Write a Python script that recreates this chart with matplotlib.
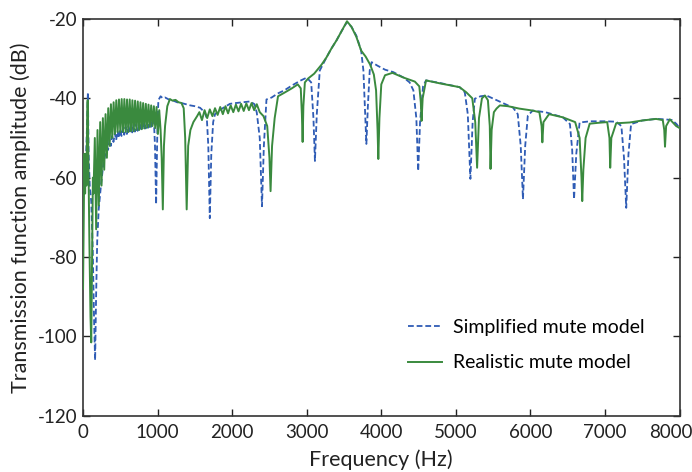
import matplotlib
matplotlib.use("Agg")
import matplotlib.pyplot as plt
from matplotlib.transforms import ScaledTranslation

# ---------------- data ----------------
simplified_freq = [0, 20, 40, 55, 65, 75, 90, 110, 130, 148, 162, 175, 190, 210, 240, 270,
                   300, 318, 336, 354, 372, 390, 408, 426, 444, 462, 480, 498, 516, 534, 552, 570,
                   588, 606, 624, 642, 660, 678, 696, 714, 732, 750, 768, 786, 804, 822, 840, 858,
                   876, 894, 912, 930, 950, 965, 980, 995, 1010, 1040, 1070, 1100, 1150, 1200, 1260,
                   1320, 1380, 1440, 1500, 1570, 1630, 1660, 1680, 1700, 1720, 1745, 1770, 1830, 1900,
                   1970, 2050, 2150, 2240, 2300, 2330, 2370, 2400, 2425, 2460, 2530, 2610, 2700, 2800,
                   2910, 3000, 3060, 3090, 3110, 3135, 3175, 3265, 3330, 3400, 3470, 3540, 3600, 3665,
                   3730, 3760, 3785, 3800, 3820, 3845, 3870, 3950, 4050, 4160, 4300, 4380, 4430, 4470,
                   4495, 4520, 4560, 4600, 4800, 5050, 5120, 5160, 5195, 5225, 5255, 5330, 5410, 5550,
                   5700, 5765, 5830, 5870, 5900, 5930, 5965, 6030, 6200, 6435, 6530, 6560, 6585, 6615,
                   6660, 6800, 7000, 7150, 7220, 7255, 7285, 7315, 7350, 7500, 7685, 7800, 7900, 7960, 8000]
simplified_db = [-62, -57, -55, -46, -38.5, -54, -62, -66, -78, -96, -106, -90, -76, -68, -62, -57,
                 -54, -51.5, -53, -50.5, -52, -49.5, -51, -48.8, -50.5, -48.3, -50, -47.8, -49.5, -47.5, -49.2, -47.2,
                 -49, -47, -48.8, -46.8, -48.6, -46.6, -48.4, -46.4, -48.2, -46.2, -48, -46, -47.8, -45.8, -47.6, -45.6,
                 -47.4, -45.4, -47.2, -45.2, -45.5, -52, -66.7, -50, -40.5, -39.5, -40, -39.8, -40.3, -40.5, -41,
                 -41.2, -41.5, -41.8, -42, -42.4, -43.5, -45, -52, -70.2, -54, -46, -44, -43, -42.2,
                 -41.4, -41.2, -41, -40.8, -41.5, -43.6, -50, -67.2, -52, -40.3, -39.8, -38.8, -38, -36.8,
                 -35.6, -34.8, -36, -45, -55.8, -44, -33, -29.7, -27.5, -25.4, -23, -20.8, -22, -24.2,
                 -28, -33, -45, -51.5, -42, -33, -30.9, -31.8, -32.8, -33.4, -34.8, -36, -38, -45,
                 -58.3, -46, -37, -35.5, -36.2, -37.2, -38.5, -44, -60.3, -46, -40.1, -39.5, -39.3, -40.5,
                 -41.8, -42.3, -44, -52, -65.4, -52, -44.4, -43.1, -43.5, -44.8, -46.5, -53, -65.4, -54,
                 -46.1, -45.8, -45.8, -45.9, -47, -55, -67.6, -54, -46.5, -45.6, -45.2, -45.3, -45.5, -46.5, -47.5]

realistic_freq = [0, 10, 18, 28, 36, 45, 55, 62, 72, 85, 100, 110, 122, 132,
                  140, 158, 176, 194, 212, 230, 248, 266, 284, 302, 320, 338, 356, 374, 392, 410,
                  428, 446, 464, 482, 500, 518, 536, 554, 572, 590, 608, 626, 644, 662, 680, 698,
                  716, 734, 752, 770, 788, 806, 824, 842, 860, 878, 896, 914, 932, 950, 968, 986,
                  1004, 1022, 1040, 1055, 1070, 1085, 1100, 1130, 1165, 1200, 1240, 1280, 1320, 1350,
                  1370, 1390, 1410, 1440, 1480, 1530,
                  1560, 1595, 1630, 1665, 1700, 1735, 1770, 1805, 1840, 1875, 1910, 1945, 1980, 2015,
                  2050, 2085, 2120, 2155, 2190, 2225, 2260, 2295, 2330,
                  2370, 2420, 2470, 2500, 2515, 2535, 2570, 2615, 2700, 2800, 2880, 2920, 2935, 2945,
                  2955, 2975, 3020, 3100, 3200, 3265, 3330, 3400, 3470, 3540, 3600, 3665, 3730, 3790,
                  3850, 3900, 3930, 3950, 3960, 3975, 4000, 4050, 4150, 4300, 4450, 4510, 4530, 4540,
                  4555, 4600, 4800, 5050, 5140, 5220, 5260, 5285, 5310, 5350, 5390, 5430, 5455, 5465,
                  5480, 5510, 5545, 5590, 5700, 5850, 6030, 6120, 6150, 6160, 6175, 6250, 6435, 6600,
                  6660, 6685, 6695, 6710, 6740, 6795, 6900, 7030, 7060, 7070, 7085, 7150, 7330, 7500,
                  7685, 7775, 7795, 7805, 7820, 7870, 7955, 8000]
realistic_db = [-88, -70, -54, -64, -54, -62, -46, -40.5, -56, -76, -95, -101.5, -78, -60,
                -64, -50, -73, -48, -67, -46, -62, -45, -58, -44, -55, -42.5, -52, -41.5, -50, -41,
                -49, -40.5, -48.5, -40.3, -48.5, -40.2, -48.5, -40.2, -48.5, -40.3, -48.5, -40.3, -48.3, -40.5, -48.3, -40.6,
                -48, -40.8, -48, -41, -47.8, -41.2, -47.6, -41.4, -47.4, -41.6, -47.2, -41.8, -47, -42, -47.5, -42.2,
                -49, -43, -48, -55, -68, -52, -47, -42, -40.2, -40.6, -40.4, -41, -41.2, -42.5,
                -50, -68, -52, -48, -46, -44.5,
                -43.5, -45.5, -43, -45, -42.8, -44.5, -42.5, -44.2, -42.2, -44, -42, -43.8, -41.8, -43.5,
                -41.6, -43.3, -41.4, -43.2, -41.3, -43, -41.2, -43, -41.5,
                -43.5, -44.5, -47, -55, -63.4, -52, -45, -39.5, -38.6, -37.5, -36.5, -37.5, -44, -51,
                -42, -36, -35, -33.8, -31.5, -29.7, -27.5, -25.4, -23, -20.6, -22, -24.5, -28, -29.5,
                -31.5, -34, -38, -48, -55.3, -45, -36.5, -34.2, -33.6, -34.8, -35.8, -37, -41, -45.7,
                -40, -35.5, -36.3, -37.2, -38.5, -40, -46, -57.5, -45, -40, -39.3, -40.5, -47, -57.8,
                -48, -43.5, -42.6, -41.8, -42, -42.6, -43.1, -43.5, -47, -51.1, -46, -44, -44.8, -46,
                -50, -60, -65.9, -58, -50, -46.4, -46.2, -46, -50, -57.5, -50, -46.3, -46.1, -45.6,
                -45.2, -45.5, -48, -52.2, -47, -45.3, -47, -47.5]

x_ticks = [0, 1000, 2000, 3000, 4000, 5000, 6000, 7000, 8000]
y_ticks = [-120, -100, -80, -60, -40, -20]
series_labels = ["Simplified mute model", "Realistic mute model"]
x_label = "Frequency (Hz)"
y_label = "Transmission function amplitude (dB)"

# ---------------- figure ----------------
plt.rcParams['font.family'] = ['Lato', 'DejaVu Sans']
fig = plt.figure(figsize=(6.92, 4.72), dpi=100)
ax = fig.add_axes([0.120, 0.119, 0.862, 0.841])

blue = '#2F5CB5'
green = '#3A8A3E'
ax.plot(simplified_freq, simplified_db, color=blue, lw=1.3, linestyle=(0, (3.2, 1.6)),
        label=series_labels[0], zorder=2)
ax.plot(realistic_freq, realistic_db, color=green, lw=1.4, label=series_labels[1], zorder=3)

ax.set_xlim(0, 8000)
ax.set_ylim(-120, -20)
ax.set_xticks(x_ticks)
ax.set_yticks(y_ticks)
ax.set_xticklabels([str(t) for t in x_ticks])
ax.set_yticklabels([str(t) for t in y_ticks])
ax.tick_params(direction='in', length=5, width=1.0, top=True, right=True,
               labelsize=13.5, colors='#222222')
ax.tick_params(axis='x', pad=6)
ax.tick_params(axis='y', pad=4)
for s in ax.spines.values():
    s.set_color('#333333')
    s.set_linewidth(1.2)

# the last x tick label sits slightly left of its tick, as in the reference
last_lbl = ax.get_xticklabels()[-1]
last_lbl.set_transform(last_lbl.get_transform() + ScaledTranslation(-9 / 100, 0, fig.dpi_scale_trans))

ax.set_xlabel(x_label, fontsize=15.5, labelpad=6, color='#222222')
ax.set_ylabel(y_label, fontsize=15.5, labelpad=5, color='#222222')

leg = fig.legend(loc='upper left', bbox_to_anchor=(408 / 692, 1 - 319 / 472),
                 frameon=False, fontsize=14, handlelength=1.75, handletextpad=0.55,
                 labelspacing=0.95, borderpad=0, borderaxespad=0)

fig.savefig('out.png', dpi=100)
